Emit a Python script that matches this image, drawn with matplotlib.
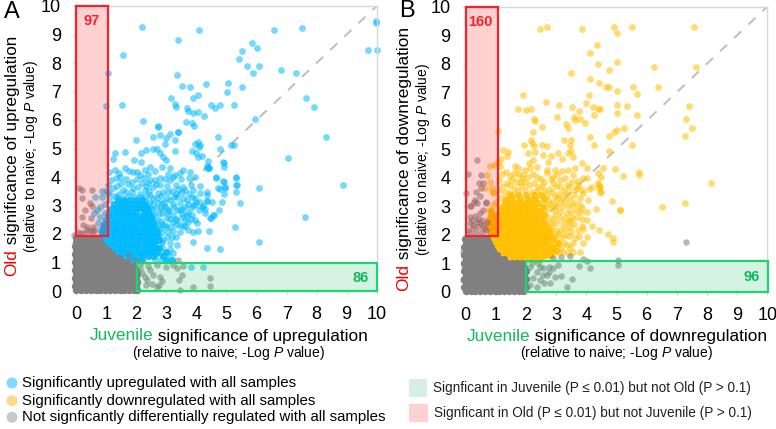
import matplotlib
matplotlib.use('Agg')
import matplotlib.pyplot as plt
from matplotlib.patches import Rectangle, Circle

plt.rcParams['font.family'] = ['Liberation Sans', 'DejaVu Sans']
plt.rcParams['mathtext.fontset'] = 'custom'
plt.rcParams['mathtext.it'] = 'Liberation Sans:italic'
plt.rcParams['mathtext.rm'] = 'Liberation Sans'

W, H = 776, 429

tick_vals = list(range(0, 11))

# solid part of the clouds, read as rows {old: [juvenile, ...]}
up_rows = {
    1.08: [1.85, 2.0, 2.2, 3.0, 3.17],
    1.22: [1.45, 1.6, 1.75, 1.9, 2.05, 2.2, 2.4, 2.55, 2.9],
    1.36: [1.2, 1.35, 1.5, 1.65, 1.8, 1.95, 2.1, 2.25, 2.4, 2.55, 2.7, 2.97],
    1.5: [1.05, 1.2, 1.35, 1.5, 1.65, 1.8, 1.95, 2.1, 2.3, 2.45, 2.6, 2.75],
    1.64: [.95, 1.1, 1.25, 1.4, 1.55, 1.7, 1.85, 2.0, 2.15, 2.3, 2.45, 2.6],
    1.78: [.9, 1.05, 1.2, 1.35, 1.5, 1.65, 1.8, 1.95, 2.1, 2.3, 2.45, 2.6, 2.75],
    1.92: [.85, 1.0, 1.15, 1.3, 1.45, 1.6, 1.75, 1.9, 2.05, 2.2, 2.35, 2.5, 2.7],
    2.06: [.85, 1.0, 1.15, 1.3, 1.45, 1.6, 1.75, 1.9, 2.05, 2.2, 2.4, 2.55, 2.7],
    2.2: [.88, 1.03, 1.18, 1.33, 1.48, 1.63, 1.78, 1.93, 2.08, 2.23, 2.38, 2.55],
    2.34: [.92, 1.07, 1.22, 1.37, 1.52, 1.67, 1.82, 1.97, 2.15, 2.3, 2.45, 2.6],
    2.48: [1.0, 1.15, 1.3, 1.45, 1.6, 1.75, 1.9, 2.05, 2.15, 2.3, 2.5],
    2.62: [1.05, 1.2, 1.35, 1.5, 1.65, 1.8, 1.95, 2.15, 2.3, 2.45],
    2.76: [1.1, 1.25, 1.4, 1.55, 1.7, 1.85, 2.0, 2.25, 2.4],
    2.9: [1.2, 1.35, 1.5, 1.65, 1.8, 1.95, 2.05, 2.2, 2.35],
    3.04: [1.25, 1.45, 1.6, 1.75, 1.95, 2.1, 2.25],
    3.18: [1.4, 1.6, 1.8, 2.0, 2.2],
}
up_pts = [
    (2.18, 9.25), (4.07, 9.15), (3.39, 8.82), (1.56, 8.27), (1.04, 7.64), (3.36, 7.58), (3.52, 7.19),
    (3.78, 7.17), (4.31, 7.27), (3.88, 6.78), (4.06, 6.87), (3.15, 6.76), (3.29, 6.56), (3.32, 6.47),
    (1.53, 6.54), (.98, 6.48), (3.68, 6.43), (3.73, 6.32), (3.87, 6.23), (4.04, 6.29), (4.25, 6.13),
    (4.48, 6.51), (4.62, 6.41), (4.79, 6.54), (5.26, 6.54), (2.22, 5.95), (3.65, 5.93), (3.84, 5.91),
    (3.91, 5.79), (2.71, 5.77), (3.38, 5.58), (6.57, 9.15), (7.51, 9.23), (9.99, 9.49), (9.99, 9.41),
    (9.72, 8.46), (10.0, 8.44), (5.84, 8.71), (5.53, 8.41), (6.03, 8.51), (5.43, 8.13), (5.68, 7.88),
    (6.09, 7.91), (5.89, 7.64), (6.8, 7.74), (7.3, 7.64), (5.06, 7.31), (5.01, 6.98), (5.53, 7.17),
    (7.65, 6.76), (7.92, 6.46), (5.95, 6.05), (4.72, 5.41), (8.31, 5.39), (5.16, 5.13), (5.26, 5.11),
    (4.77, 4.99), (4.12, 5.11), (4.19, 4.73), (7.04, 4.67), (4.37, 4.57), (4.91, 4.5), (4.91, 4.34),
    (4.34, 4.39), (4.43, 4.31), (4.64, 3.98), (5.32, 3.98), (4.91, 3.84), (5.35, 3.71), (4.77, 3.59),
    (4.96, 3.62), (6.08, 3.62), (8.89, 3.71), (7.61, 2.58), (5.27, 2.26), (6.08, 1.73), (5.45, 3.1),
    (5.31, 3.49), (4.77, 1.49), (4.36, 1.51), (4.41, 2.09), (4.05, 2.12), (3.9, 2.08), (3.87, 1.71),
    (4.48, 2.55), (4.57, 2.67), (4.75, 2.84), (4.84, 3.13), (4.53, 3.13), (4.36, 3.16), (4.23, 2.98),
    (4.28, 2.75), (4.08, 2.84), (3.9, 3.02), (4.0, 3.13), (4.93, 3.4), (4.35, 3.37), (3.81, .83),
    (4.22, .85), (3.73, 2.14), (3.62, 2.28), (4.01, 2.37), (3.54, 2.61), (3.73, 2.73), (3.45, 2.84),
    (3.23, 2.43), (2.97, 2.26), (3.06, 2.08), (2.9, 1.79), (3.23, 1.32), (3.34, 1.61), (3.17, 1.9),
    (2.71, 5.78), (1.99, 5.29), (2.55, 5.39), (2.77, 5.47), (3.12, 5.51), (3.4, 5.58), (3.0, 5.36),
    (3.29, 5.3), (2.95, 5.16), (2.56, 4.97), (2.7, 5.0), (2.32, 4.95), (2.14, 4.83), (3.29, 4.92),
    (4.06, 5.24), (3.95, 5.15), (4.1, 5.06), (3.84, 4.92), (3.99, 4.83), (4.06, 4.71), (1.29, 4.85),
    (1.62, 4.89), (1.21, 4.62), (1.92, 4.6), (2.14, 4.54), (2.79, 4.83), (2.9, 4.71), (3.0, 4.6),
    (2.46, 4.36), (2.29, 4.25), (1.62, 4.3), (1.29, 4.25), (1.9, 4.19), (2.12, 4.07), (2.84, 4.36),
    (3.12, 4.3), (3.29, 4.07), (3.56, 4.25), (3.78, 4.19), (3.95, 4.01), (1.15, 3.9), (1.45, 4.01),
    (2.46, 3.9), (2.79, 3.95), (3.12, 3.9), (1.5, 3.78), (1.84, 3.84), (2.18, 3.78), (2.4, 3.8),
    (2.79, 3.72), (2.56, 3.66), (1.23, 3.6), (1.57, 3.54), (1.9, 3.6), (2.29, 3.54), (2.9, 3.49),
    (3.17, 3.51), (3.4, 3.57), (3.62, 3.54), (3.9, 3.54), (4.36, 4.33), (4.43, 4.3), (4.9, 4.51),
    (4.64, 4.01), (5.31, 4.01), (4.9, 3.87), (5.31, 3.72), (4.95, 3.64), (4.73, 3.6), (4.34, 3.49),
    (3.95, 3.25), (4.36, 3.17), (3.68, 3.19), (3.34, 3.31), (3.12, 3.19), (2.68, 3.25), (2.45, 3.37),
    (2.95, 2.96), (2.68, 2.9), (3.34, 2.84), (3.62, 2.96), (3.95, 3.02), (4.18, 2.96), (4.29, 2.87),
    (4.54, 2.67), (4.46, 2.55), (3.68, 2.67), (3.95, 2.49), (3.34, 2.49), (3.01, 2.55), (2.68, 2.49),
    (3.73, 2.43), (3.45, 2.32), (2.95, 2.32), (2.79, 2.2), (2.45, 2.61), (2.45, 2.9), (2.6, 2.7),
    (2.85, 2.75), (3.1, 2.8), (2.55, 3.05), (2.85, 3.1), (2.3, 3.15), (2.15, 3.3), (1.75, 3.35),
    (1.35, 3.3), (1.1, 3.2), (.62, 3.29), (.84, 3.29), (.99, 3.52), (.79, 2.96), (.68, 2.84), (.59, 2.73),
    (.79, 2.61), (.95, 2.73), (.73, 2.37), (.9, 2.26), (.79, 2.14), (.87, 3.5), (1.04, 3.4), (.95, 3.05),
    # middle of the cloud
    (1.08, 4.18), (1.42, 4.13), (1.76, 4.22), (2.02, 4.16), (2.38, 4.12), (2.62, 4.2), (3.05, 4.11),
    (3.46, 4.14), (1.32, 3.96), (1.66, 3.92), (2.02, 3.94), (2.27, 3.98), (2.61, 3.9), (2.96, 3.93),
    (3.22, 3.99), (3.5, 3.92), (3.76, 3.95), (1.06, 3.72), (1.36, 3.68), (1.71, 3.74), (2.06, 3.66),
    (2.31, 3.7), (2.66, 3.75), (3.01, 3.69), (3.31, 3.72), (3.56, 3.66), (3.81, 3.73), (4.12, 3.68),
    (1.1, 3.47), (1.41, 3.42), (1.66, 3.46), (1.86, 3.49), (2.11, 3.41), (2.41, 3.5), (2.71, 3.44),
    (3.06, 3.46), (3.31, 3.41), (3.51, 3.47), (3.76, 3.42), (4.11, 3.45), (1.26, 3.33), (1.56, 3.28),
    (1.96, 3.3), (2.31, 3.34), (2.56, 3.27), (2.81, 3.32), (3.01, 3.26), (3.26, 3.3), (3.56, 3.27),
    (3.86, 3.31), (2.31, 3.06), (2.46, 3.12), (2.71, 3.08), (2.91, 3.13), (3.21, 3.05), (3.46, 3.1),
    (3.71, 3.07), (4.11, 3.12), (2.26, 2.93), (2.51, 2.87), (2.81, 2.92), (3.06, 2.88), (3.26, 2.94),
    (3.51, 2.86), (3.81, 2.9), (2.31, 2.72), (2.51, 2.67), (2.76, 2.7), (3.01, 2.74), (3.21, 2.66),
    (3.51, 2.71), (3.86, 2.68), (2.41, 2.47), (2.56, 2.52), (2.81, 2.46), (3.11, 2.51), (3.31, 2.54),
    (3.61, 2.48), (3.81, 2.53), (2.36, 2.27), (2.56, 2.33), (2.71, 2.28), (2.86, 2.34), (3.11, 2.26),
    (3.31, 2.31), (3.56, 2.27), (2.26, 2.12), (2.51, 2.06), (2.66, 2.13), (2.86, 2.07), (3.21, 2.11),
    (3.46, 2.08), (2.31, 1.92), (2.56, 1.87), (2.76, 1.93), (3.01, 1.88), (3.31, 1.91), (2.36, 1.71),
    (2.61, 1.67), (2.86, 1.72), (3.11, 1.68), (2.51, 1.52), (2.66, 1.47), (2.86, 1.53), (3.11, 1.49),
    (2.41, 1.32), (2.66, 1.27), (2.81, 1.33), (3.06, 1.28), (2.61, 1.12), (2.81, 1.08),
]
gray_rows_a = {
    .03: [0, .16, .32, .48, .64, .8, .96, 1.12, 1.28, 1.44, 1.6, 1.76, 1.92, 2.03],
    .17: [-.04, .1, .26, .42, .58, .74, .9, 1.06, 1.22, 1.38, 1.54, 1.7, 1.86, 2.0],
    .31: [0, .16, .32, .48, .64, .8, .96, 1.12, 1.28, 1.44, 1.6, 1.76, 1.92, 2.03],
    .45: [-.04, .1, .26, .42, .58, .74, .9, 1.06, 1.22, 1.38, 1.54, 1.7, 1.86, 2.0],
    .59: [0, .16, .32, .48, .64, .8, .96, 1.12, 1.28, 1.44, 1.6, 1.76, 1.92, 2.03],
    .73: [-.04, .1, .26, .42, .58, .74, .9, 1.06, 1.22, 1.38, 1.54, 1.7, 1.86, 2.0],
    .87: [0, .16, .32, .48, .64, .8, .96, 1.12, 1.28, 1.44, 1.6, 1.76, 1.92],
    1.01: [-.04, .1, .26, .42, .58, .74, .9, 1.06, 1.22, 1.38, 1.54, 1.7],
    1.15: [0, .16, .32, .48, .64, .8, .96, 1.12, 1.28, 1.42],
    1.29: [-.04, .1, .26, .42, .58, .74, .9, 1.06, 1.2],
    1.43: [0, .16, .32, .48, .64, .8, .96, 1.05],
    1.57: [-.04, .1, .26, .42, .58, .74, .9],
    1.71: [0, .16, .32, .48, .64, .78],
    1.85: [-.02, .1, .26, .42, .58, .72],
}
gray_pts_a = [
    (2.4, .88), (2.67, .91), (2.97, .85), (3.23, .91), (3.56, .88), (2.29, .48), (2.34, .39), (2.31, .21),
    (2.51, .23), (2.79, .48), (2.84, .36), (2.76, .21), (3.51, .56), (3.43, .39), (3.45, .04), (3.9, .15),
    (4.45, .44), (4.45, .18), (3.4, 1.09), (2.12, .8), (2.18, .62), (2.56, .56), (2.45, .74), (2.67, .15),
    (3.34, .8), (.1, 3.63), (.2, 3.25), (.51, 2.98), (.23, 2.32), (.48, 2.55), (.29, 2.84), (.18, 2.61),
    (.07, 2.08), (.54, 2.08), (.34, 2.14), (.57, 2.26), (.2, 3.54), (.51, 3.54), (.35, 2.25), (.45, 2.1),
    (.25, 2.05), (.6, 2.15), (.15, 2.02), (.45, 3.1), (-.08, 1.98), (2.15, 1.0), (1.95, 1.1), (1.75, 1.25),
]
down_rows = {
    1.15: [1.55, 1.72, 1.9, 2.1, 2.3, 2.5],
    1.28: [1.25, 1.4, 1.55, 1.7, 1.85, 2.0, 2.15, 2.3, 2.5, 2.65, 2.8],
    1.42: [1.1, 1.25, 1.4, 1.55, 1.7, 1.85, 2.0, 2.15, 2.3, 2.45, 2.65, 2.85, 3.0],
    1.56: [1.0, 1.15, 1.3, 1.45, 1.6, 1.75, 1.9, 2.05, 2.2, 2.35, 2.55, 2.7, 2.85],
    1.7: [.92, 1.07, 1.22, 1.37, 1.52, 1.67, 1.82, 1.97, 2.12, 2.27, 2.42, 2.55, 2.7, 3.05],
    1.84: [.88, 1.03, 1.18, 1.33, 1.48, 1.63, 1.78, 1.93, 2.08, 2.23, 2.38, 2.55, 2.7, 2.9],
    1.98: [.85, 1.0, 1.15, 1.3, 1.45, 1.6, 1.75, 1.9, 2.05, 2.2, 2.35, 2.5, 2.65, 2.8],
    2.12: [.8, .95, 1.1, 1.25, 1.4, 1.55, 1.7, 1.85, 2.0, 2.15, 2.3, 2.45, 2.6, 2.75],
    2.26: [.78, .93, 1.08, 1.23, 1.38, 1.53, 1.68, 1.83, 1.98, 2.13, 2.28, 2.45, 2.65],
    2.4: [.75, .9, 1.05, 1.2, 1.35, 1.5, 1.65, 1.8, 1.95, 2.1, 2.25, 2.4, 2.6],
    2.54: [.78, .93, 1.08, 1.23, 1.38, 1.53, 1.68, 1.83, 1.98, 2.13, 2.3, 2.5],
    2.68: [.85, 1.0, 1.15, 1.3, 1.45, 1.6, 1.75, 1.9, 2.05, 2.2, 2.35, 2.6],
    2.82: [.85, 1.15, 1.3, 1.45, 1.6, 1.75, 1.9, 2.05, 2.25, 2.45],
    2.96: [1.2, 1.35, 1.5, 1.65, 1.8, 1.95, 2.1, 2.3, 2.55],
    3.1: [1.3, 1.5, 1.65, 1.85, 2.0, 2.2, 2.4],
    3.24: [1.35, 1.55, 1.8, 2.05, 2.3, 2.6],
    3.38: [1.5, 1.75, 2.0, 2.25, 2.5],
}
down_pts = [
    (2.48, 9.22), (2.69, 9.3), (3.87, 9.2), (4.92, 9.3), (5.51, 9.3), (5.03, 9.09), (7.57, 9.3), (4.34, 8.65),
    (4.11, 8.37), (4.38, 7.99), (5.03, 8.05), (6.24, 7.88), (7.62, 7.88), (4.74, 7.77), (3.48, 7.68),
    (4.11, 7.47), (4.42, 7.31), (4.65, 7.19), (4.76, 7.19), (5.56, 7.19), (6.38, 7.19), (5.03, 7.03),
    (5.67, 6.95), (4.09, 6.91), (1.9, 6.89), (3.98, 6.63), (2.65, 6.64), (3.1, 6.54), (3.51, 6.48),
    (1.75, 6.4), (1.99, 6.36), (2.17, 6.42), (3.75, 6.34), (4.23, 6.48), (4.4, 6.4), (4.45, 6.41),
    (5.01, 6.54), (5.34, 6.5), (7.4, 6.5), (5.02, 6.26), (4.24, 6.21), (5.67, 6.21), (3.04, 6.13),
    (3.6, 6.14), (3.8, 6.07), (3.62, 6.01), (2.27, 6.05), (2.3, 6.0), (7.3, 6.07), (3.34, 5.87),
    (3.94, 5.91), (3.4, 5.73), (2.53, 5.79), (2.23, 5.6), (1.08, 5.65), (7.49, 5.73), (5.25, 5.73),
    (5.02, 5.67), (4.92, 5.6), (4.76, 5.46), (4.11, 5.42), (7.28, 5.46), (2.18, 5.31), (2.2, 5.23),
    (3.25, 5.31), (3.49, 5.31), (4.24, 5.13), (5.51, 5.13), (1.94, 5.15), (2.25, 5.12), (2.52, 5.15),
    (2.69, 5.12), (3.46, 5.13), (1.25, 4.98), (4.74, 4.94), (3.49, 4.95), (1.41, 4.89), (1.36, 4.76),
    (1.17, 4.64), (1.06, 4.55), (.98, 4.46), (2.06, 4.88), (2.3, 4.89), (2.57, 4.8), (2.83, 4.77),
    (3.07, 4.88), (3.38, 4.85), (3.57, 4.74), (2.72, 4.54), (3.18, 4.64), (2.24, 4.62), (2.11, 4.5),
    (1.64, 4.42), (1.75, 4.33), (1.97, 4.27), (2.14, 4.33), (2.35, 4.39), (2.69, 4.27), (2.96, 4.27),
    (3.18, 4.25), (3.4, 4.27), (3.62, 4.33), (3.85, 4.5), (4.01, 4.33), (4.56, 4.33), (4.95, 4.29),
    (5.23, 4.06), (5.75, 4.21), (5.75, 4.09), (8.12, 3.81), (4.38, 4.15), (4.5, 4.04), (4.01, 4.0),
    (.81, 4.41), (.72, 4.09), (.81, 3.86), (.86, 3.63), (.64, 3.63), (.92, 3.51), (1.14, 4.41), (1.19, 4.13),
    (1.12, 3.92), (1.36, 3.8), (1.6, 4.15), (1.91, 4.09), (2.35, 4.04), (2.69, 4.15), (2.91, 4.04),
    (3.13, 3.92), (3.51, 3.86), (3.9, 3.98), (4.42, 3.74), (4.42, 3.63), (4.5, 3.51), (4.18, 3.68),
    (4.09, 3.59), (3.85, 3.57), (3.62, 3.57), (4.84, 3.18), (5.12, 2.87), (6.52, 2.98), (7.28, 3.12),
    (.78, 2.87), (.92, 3.04), (1.0, 3.16), (.92, 3.45), (1.6, 3.62), (1.85, 3.7), (2.1, 3.75), (2.4, 3.68),
    (2.75, 3.6), (3.0, 3.7), (3.25, 3.55), (2.95, 3.35), (3.2, 3.3), (1.3, 3.5), (2.2, 3.5), (2.7, 3.4),
    (1.55, 3.95), (1.8, 3.85), (2.6, 3.85), (3.35, 3.75), (4.9, 1.87), (4.9, 1.75), (4.73, 2.02), (4.43, 2.16),
    (4.18, 2.32), (4.31, 2.89), (5.13, 2.85), (4.01, 1.93), (3.9, 1.7), (3.62, 1.87), (3.73, 2.16), (3.46, 2.28),
    (3.13, 2.16), (3.35, 1.64), (3.57, 1.4), (3.79, 1.4), (3.24, 1.4), (3.02, 1.58), (4.01, 2.51), (3.68, 2.63),
    (3.35, 2.75), (3.13, 2.57), (4.01, 2.81), (3.51, 3.04), (3.79, 3.04), (4.07, 3.22), (3.13, 3.16), (4.4, 3.8),
    (4.45, 3.68), (4.45, 3.51), (3.9, 3.45), (3.68, 3.63), (2.85, 2.3), (2.95, 2.7), (2.8, 2.95), (2.95, 1.95),
    (3.3, 2.0), (3.45, 2.5), (.92, 1.13),
    # middle of the cloud
    (1.32, 4.21), (1.48, 4.05), (1.72, 4.12), (1.88, 3.98), (2.08, 4.02), (2.22, 4.14), (2.5, 3.94),
    (2.82, 3.96), (3.02, 4.13), (3.28, 3.98), (3.55, 4.08), (3.72, 3.9), (1.25, 3.72), (1.46, 3.76),
    (1.68, 3.84), (1.98, 3.86), (2.26, 3.82), (2.52, 3.7), (2.88, 3.8), (3.12, 3.68), (3.42, 3.66),
    (3.72, 3.74), (1.12, 3.56), (1.44, 3.46), (1.72, 3.55), (1.95, 3.56), (2.35, 3.55), (2.6, 3.54),
    (2.85, 3.5), (3.08, 3.44), (3.35, 3.42), (3.6, 3.38), (3.78, 3.3), (1.18, 3.28), (2.72, 3.2),
    (2.88, 3.16), (3.02, 3.28), (3.28, 3.18), (3.45, 3.24), (3.62, 3.12), (2.6, 3.05), (2.78, 3.06),
    (2.98, 3.02), (3.2, 2.96), (3.38, 3.0), (3.65, 2.88), (3.85, 2.92), (2.62, 2.84), (2.95, 2.88),
    (3.12, 2.78), (3.5, 2.8), (3.78, 2.78), (2.72, 2.62), (2.9, 2.55), (3.3, 2.58), (3.52, 2.6),
    (3.85, 2.55), (2.62, 2.44), (2.78, 2.4), (3.0, 2.42), (3.22, 2.36), (3.4, 2.44), (3.6, 2.38),
    (3.85, 2.32), (2.78, 2.18), (3.0, 2.14), (3.28, 2.2), (3.5, 2.1), (3.9, 2.2), (2.72, 2.02),
    (3.05, 2.04), (3.18, 1.92), (3.42, 1.95), (3.75, 1.95), (2.62, 1.86), (2.82, 1.78), (3.05, 1.76),
    (3.25, 1.72), (3.55, 1.7), (2.88, 1.6), (3.15, 1.55), (3.45, 1.55), (2.6, 1.4), (2.85, 1.32),
    (3.08, 1.38), (3.38, 1.36),
]
gray_rows_b = {
    .03: [0, .16, .32, .48, .64, .8, .96, 1.12, 1.28, 1.44, 1.6, 1.76, 1.9],
    .17: [-.04, .1, .26, .42, .58, .74, .9, 1.06, 1.22, 1.38, 1.54, 1.7, 1.86, 2.0],
    .31: [0, .16, .32, .48, .64, .8, .96, 1.12, 1.28, 1.44, 1.6, 1.76, 1.92],
    .45: [-.04, .1, .26, .42, .58, .74, .9, 1.06, 1.22, 1.38, 1.54, 1.7, 1.86, 2.0],
    .59: [0, .16, .32, .48, .64, .8, .96, 1.12, 1.28, 1.44, 1.6, 1.76, 1.92],
    .73: [-.04, .1, .26, .42, .58, .74, .9, 1.06, 1.22, 1.38, 1.54, 1.7, 1.86, 2.0],
    .87: [0, .16, .32, .48, .64, .8, .96, 1.12, 1.28, 1.44, 1.6, 1.76, 1.92],
    1.01: [-.04, .1, .26, .42, .58, .74, .9, 1.06, 1.22, 1.38, 1.54, 1.7, 1.86],
    1.15: [0, .16, .32, .48, .64, .8, .96, 1.1, 1.26],
    1.29: [-.04, .1, .26, .42, .58, .74, .9, 1.04],
    1.43: [0, .16, .32, .48, .64, .8, .92],
    1.57: [-.04, .1, .26, .42, .58, .74, .84],
    1.71: [0, .16, .32, .48, .64, .78],
    1.85: [-.02, .1, .26, .42, .58, .7],
}
gray_pts_b = [
    (.39, 4.62), (.06, 4.12), (.51, 4.09), (.45, 3.8), (.56, 3.82), (.5, 3.63), (.34, 3.51), (0, 3.47),
    (.28, 3.16), (.14, 3.0), (.36, 3.1), (.67, 3.13), (.59, 2.87), (.14, 2.61), (.31, 2.65), (.48, 2.75),
    (.14, 2.4), (.36, 2.46), (.53, 2.52), (.09, 2.16), (.25, 2.22), (.42, 2.28), (.59, 2.34), (.7, 2.46),
    (.14, 2.05), (.34, 2.05), (.53, 2.11), (.67, 2.16), (.31, 3.22), (.48, 3.36), (.18, 3.0), (.67, 3.12),
    (.22, 2.5), (.42, 2.55), (.25, 2.35), (.48, 2.4), (.62, 2.22), (2.91, 1.2), (3.16, 1.23), (3.46, 1.25),
    (3.9, 1.13), (4.01, 1.08), (4.12, .82), (3.77, .91), (5.04, 1.11), (5.04, .94), (7.29, 1.73), (3.51, .43),
    (3.35, .15), (3.15, .55), (2.96, .5), (2.8, .29), (2.69, .58), (2.57, .82), (2.41, .99), (2.13, .88),
    (2.35, .7), (2.13, .23), (2.35, .15), (2.77, .88), (2.91, .82), (3.07, .94), (2.46, .41), (2.24, .47),
    (2.6, .29), (2.2, 1.02), (2.45, .85), (2.55, .6), (2.75, .7), (-.08, 1.4), (-.07, .9), (-.08, .4),
]


def unpack_rows(rows):
    xs, ys = [], []
    for y, row in rows.items():
        xs += row
        ys += [y] * len(row)
    return xs, ys


def px_axes(left, top, right, bottom):
    return fig.add_axes([left / W, 1 - bottom / H, (right - left) / W, (bottom - top) / H])


def colored_label(x, y, parts, size, rotation=0):
    # parts are (text, colour), centred on pixel x, y
    rend = fig.canvas.get_renderer()
    items = [page.text(0, 0, t, color=c, fontsize=size, ha='left', va='center', rotation=rotation,
                       rotation_mode='anchor') for t, c in parts]
    lens = []
    for it in items:
        ext = it.get_window_extent(rend)
        lens.append(ext.height if rotation else ext.width)
    pos = -sum(lens) / 2
    for it, n in zip(items, lens):
        if rotation:
            it.set_position((x, y - pos))
        else:
            it.set_position((x + pos, y))
        pos += n


def scatter_panel(ax, rows, pts, gray_rows, gray_pts, color):
    ax.plot([0, 10], [0, 10], color='#bdbdbd', lw=1.4, dashes=(5, 5), zorder=1)
    x, y = unpack_rows(rows)
    ax.scatter(x, y, s=26, color=color, alpha=.9, lw=0, zorder=2, clip_on=False)
    x, y = zip(*pts)
    ax.scatter(x, y, s=24, color=color, alpha=.55, lw=0, zorder=2, clip_on=False)
    x, y = unpack_rows(gray_rows)
    ax.scatter(x, y, s=28, color='#808080', alpha=1, lw=0, zorder=3, clip_on=False)
    x, y = zip(*gray_pts)
    ax.scatter(x, y, s=22, color='#7f7f7f', alpha=.55, lw=0, zorder=3, clip_on=False)
    ax.set_xlim(0, 10)
    ax.set_ylim(0, 10)
    ax.set_xticks(tick_vals)
    ax.set_yticks(tick_vals)
    ax.tick_params(labelsize=13, length=2, width=.8, color='#d0d0d0')
    ax.tick_params(axis='x', pad=9)
    ax.tick_params(axis='y', pad=9)
    for s in ax.spines.values():
        s.set_color('#d9d9d9')
        s.set_linewidth(1)


fig = plt.figure(figsize=(W / 100, H / 100), dpi=100)
page = fig.add_axes([0, 0, 1, 1], zorder=0)
page.set_xlim(0, W)
page.set_ylim(H, 0)
page.axis('off')

RED = '#f5222d'
GREEN = '#1ed66f'
TXT_GREEN = '#12b85a'
RED_FILL = (1, 0, 0, .18)
GREEN_FILL = (.1, .75, .4, .18)

ax_a = px_axes(76.3, 6, 376.7, 291)
scatter_panel(ax_a, up_rows, up_pts, gray_rows_a, gray_pts_a, '#00baff')
ax_a.add_patch(Rectangle((0, 1.94), 1.06, 8.06, fc=RED_FILL, ec=RED, lw=1.6, zorder=4, clip_on=False))
ax_a.add_patch(Rectangle((2.03, 0), 7.97, .99, fc=GREEN_FILL, ec=GREEN, lw=1.6, zorder=4, clip_on=False))
ax_a.text(.5, 9.46, '97', color=RED, fontsize=10.5, fontweight='bold', ha='center', va='center', zorder=5)
ax_a.text(9.45, .47, '86', color=TXT_GREEN, fontsize=10.5, fontweight='bold', ha='center', va='center', zorder=5)

ax_b = px_axes(465.7, 6.7, 767.3, 291.7)
scatter_panel(ax_b, down_rows, down_pts, gray_rows_b, gray_pts_b, '#ffc000')
ax_b.add_patch(Rectangle((0, 1.96), 1.08, 8.04, fc=RED_FILL, ec=RED, lw=1.6, zorder=4, clip_on=False))
ax_b.add_patch(Rectangle((1.99, 0), 8.04, 1.08, fc=GREEN_FILL, ec=GREEN, lw=1.6, zorder=4, clip_on=False))
ax_b.text(.48, 9.45, '160', color=RED, fontsize=10.5, fontweight='bold', ha='center', va='center', zorder=5)
ax_b.text(9.48, .52, '96', color=TXT_GREEN, fontsize=10.5, fontweight='bold', ha='center', va='center', zorder=5)

page.text(12, 12, 'A', fontsize=17, ha='center', va='center')
page.text(406.5, 11, 'B', fontsize=17, ha='center', va='center')

SUB = r'(relative to naive; -Log $\mathit{P}$ value)'
colored_label(228.7, 336, [('Juvenile', TXT_GREEN), (' significance of upregulation', 'black')], 12.4)
page.text(228.8, 353, SUB, fontsize=10, ha='center', va='center')
colored_label(616.8, 336.5, [('Juvenile', TXT_GREEN), (' significance of downregulation', 'black')], 12.4)
page.text(616.8, 353, SUB, fontsize=10, ha='center', va='center')
colored_label(12, 156, [('Old', '#f00000'), (' significance of upregulation', 'black')], 12.3, rotation=90)
page.text(31, 156, SUB, fontsize=10, ha='center', va='center', rotation=90)
colored_label(404, 159, [('Old', '#f00000'), (' significance of downregulation', 'black')], 12.4, rotation=90)
page.text(423, 159.5, SUB, fontsize=10, ha='center', va='center', rotation=90)

legend_dots = ['#84d8ff', '#ffd98a', '#c8c8c8']
legend_text = ['Significantly upregulated with all samples', 'Significantly downregulated with all samples',
               'Not signficantly differentially regulated with all samples']
for yy, c, t in zip([383, 400.7, 417.3], legend_dots, legend_text):
    page.add_patch(Circle((12, yy), 5.5, fc=c, ec='none'))
    page.text(21.7, yy, t, fontsize=10.85, ha='left', va='center')

page.add_patch(Rectangle((409, 379), 18, 18, fc='#d5f0e2', ec='none'))
page.add_patch(Rectangle((409, 404), 18.5, 17.7, fc='#ffd2d2', ec='none'))
page.text(432.7, 388, 'Signficant in Juvenile (P \u2264 0.01) but not Old (P > 0.1)', fontsize=9.85, ha='left',
          va='center', color='#222222')
page.text(434, 412.7, 'Signficant in Old (P \u2264 0.01) but not Juvenile (P > 0.1)', fontsize=9.85, ha='left',
          va='center', color='#222222')

fig.savefig('out.png', dpi=100)
